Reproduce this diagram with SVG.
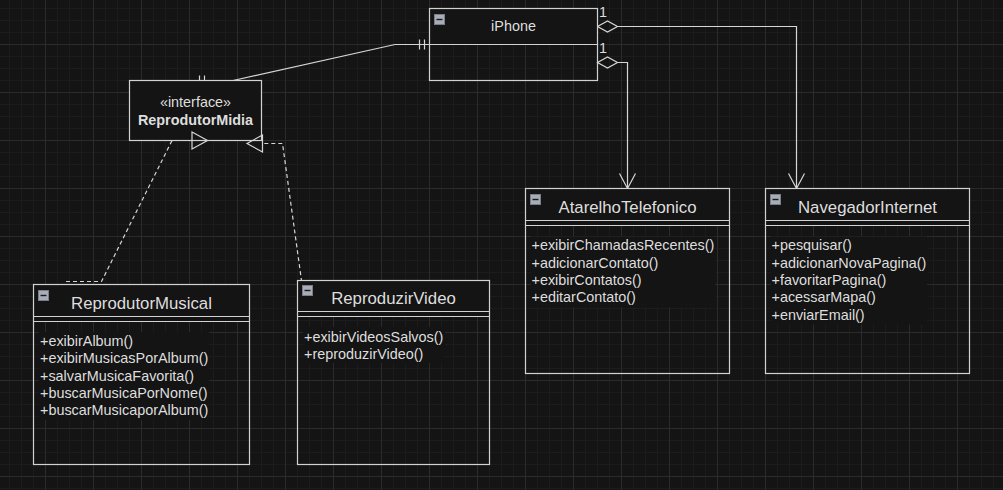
<svg xmlns="http://www.w3.org/2000/svg" width="1003" height="490" viewBox="0 0 1003 490">
<style>
.box{fill:none;stroke:#d2d2d2;stroke-width:1.2}
.hdr{fill:#141414;stroke:none}
.sep{stroke:#d2d2d2;stroke-width:1.2;fill:none}
.icon{fill:#a8acb7;stroke:#7a7e8a;stroke-width:1}
.minus{stroke:#1a1a1a;stroke-width:1.4}
.title{font-family:"Liberation Sans",Arial,sans-serif;font-size:16.8px;fill:#dedede;text-anchor:middle}
.t14{font-family:"Liberation Sans",Arial,sans-serif;font-size:14.4px;fill:#dedede}
.mid{text-anchor:middle}
.bold{font-weight:bold}
.edge{fill:none;stroke:#d6d6d6;stroke-width:1.2}
.dash{stroke-dasharray:4 3}
.bgfill{fill:#141414;stroke:none}
</style>
<defs>
<pattern id="grid" patternUnits="userSpaceOnUse" x="45" y="44" width="48" height="48">
<rect width="48" height="48" fill="#141414"/>
<path d="M12.5 0V48M24.5 0V48M36.5 0V48M0 12.5H48M0 24.5H48M0 36.5H48" stroke="#1c1c1c" stroke-width="1"/>
<path d="M0.5 0V48M0 0.5H48" stroke="#2b2b2b" stroke-width="1"/>
</pattern>
</defs>
<rect width="1003" height="490" fill="url(#grid)"/>

<g id="connectors">
<polyline class="edge" points="233,80.5 395,44.5 429.5,44.5"/>
<path class="edge" d="M419.5 39.5V49.5M424.5 39.5V49.5M199.5 75.5V80.5M204.5 75.5V80.5"/>
<polyline class="edge" points="617.5,26.5 796.5,26.5 796.5,188.5"/>
<polygon class="edge" points="597.5,26.5 607.5,21 617.5,26.5 607.5,32" fill="#141414"/>
<polyline class="edge" points="788.5,173.5 796.5,188.5 804.5,173.5"/>
<polyline class="edge" points="617.5,62.5 627.5,62.5 627.5,188.5"/>
<polygon class="edge" points="597.5,62.5 607.5,57 617.5,62.5 607.5,68" fill="#141414"/>
<polyline class="edge" points="619.5,173.5 627.5,188.5 635.5,173.5"/>
<polyline class="edge dash" points="66,281.5 101.5,281.5 172,140.5 192,140.5"/>
<polyline class="edge dash" points="338,280.5 301.5,280.5 282.5,143.5 262.5,143.5"/>
</g>

<g id="iPhone">
<rect class="hdr" x="429.5" y="8.5" width="168" height="36"/>
<rect class="box" x="429.5" y="8.5" width="168" height="72"/>
<line class="sep" x1="429.5" y1="44.5" x2="597.5" y2="44.5"/>
<rect class="icon" x="434.5" y="14.5" width="10" height="10"/>
<line class="minus" x1="436.5" y1="19.5" x2="442.5" y2="19.5"/>
<text class="t14 mid" x="513.5" y="31">iPhone</text>
<text class="t14" x="599" y="17">1</text>
<text class="t14" x="599" y="53">1</text>
</g>

<g id="ReprodutorMidia">
<rect x="129.5" y="80.5" width="132" height="60" fill="#141414" stroke="#d2d2d2" stroke-width="1.2"/>
<text class="t14 mid" x="195.5" y="107">«interface»</text>
<text class="t14 mid bold" x="195.5" y="124.5">ReprodutorMidia</text>
</g>

<g id="triangles">
<polygon class="edge" points="192,132 207.5,140.5 192,149" fill="#141414"/>
<polygon class="edge" points="262.5,135 247,143.5 262.5,152" fill="#141414"/>
</g>

<g id="ReprodutorMusical">
<rect class="hdr" x="33.5" y="284.5" width="216" height="37"/>
<rect class="bgfill" x="39" y="332" width="170" height="88"/>
<rect class="box" x="33.5" y="284.5" width="216" height="180"/>
<line class="sep" x1="33.5" y1="316.5" x2="249.5" y2="316.5"/>
<line class="sep" x1="33.5" y1="321.5" x2="249.5" y2="321.5"/>
<rect class="icon" x="38.5" y="290.5" width="10" height="10"/>
<line class="minus" x1="40.5" y1="295.5" x2="46.5" y2="295.5"/>
<text class="title" x="141.5" y="309">ReprodutorMusical</text>
<text class="t14" x="40" y="346">+exibirAlbum()</text>
<text class="t14" x="40" y="363.3">+exibirMusicasPorAlbum()</text>
<text class="t14" x="40" y="380.6">+salvarMusicaFavorita()</text>
<text class="t14" x="40" y="397.9">+buscarMusicaPorNome()</text>
<text class="t14" x="40" y="415.2">+buscarMusicaporAlbum()</text>
</g>

<g id="ReproduzirVideo">
<rect class="hdr" x="297.5" y="280.5" width="192" height="36"/>
<rect class="bgfill" x="303" y="327" width="142" height="36"/>
<rect class="box" x="297.5" y="280.5" width="192" height="184"/>
<line class="sep" x1="297.5" y1="311.5" x2="489.5" y2="311.5"/>
<line class="sep" x1="297.5" y1="316.5" x2="489.5" y2="316.5"/>
<rect class="icon" x="302.5" y="285.5" width="10" height="10"/>
<line class="minus" x1="304.5" y1="290.5" x2="310.5" y2="290.5"/>
<text class="title" x="393.5" y="304">ReproduzirVideo</text>
<text class="t14" x="304" y="341.5">+exibirVideosSalvos()</text>
<text class="t14" x="304" y="358.8">+reproduzirVideo()</text>
</g>

<g id="AtarelhoTelefonico">
<rect class="hdr" x="525.5" y="188.5" width="204" height="37"/>
<rect class="bgfill" x="531" y="236.5" width="184" height="71"/>
<rect class="box" x="525.5" y="188.5" width="204" height="185"/>
<line class="sep" x1="525.5" y1="220.5" x2="729.5" y2="220.5"/>
<line class="sep" x1="525.5" y1="225.5" x2="729.5" y2="225.5"/>
<rect class="icon" x="530.5" y="194.5" width="10" height="10"/>
<line class="minus" x1="532.5" y1="199.5" x2="538.5" y2="199.5"/>
<text class="title" x="627.5" y="213">AtarelhoTelefonico</text>
<text class="t14" x="531.5" y="250.3">+exibirChamadasRecentes()</text>
<text class="t14" x="531.5" y="267.6">+adicionarContato()</text>
<text class="t14" x="531.5" y="284.9">+exibirContatos()</text>
<text class="t14" x="531.5" y="302.2">+editarContato()</text>
</g>

<g id="NavegadorInternet">
<rect class="hdr" x="765.5" y="188.5" width="204" height="37"/>
<rect class="bgfill" x="771" y="236.5" width="156" height="88"/>
<rect class="box" x="765.5" y="188.5" width="204" height="185"/>
<line class="sep" x1="765.5" y1="220.5" x2="969.5" y2="220.5"/>
<line class="sep" x1="765.5" y1="225.5" x2="969.5" y2="225.5"/>
<rect class="icon" x="770.5" y="194.5" width="10" height="10"/>
<line class="minus" x1="772.5" y1="199.5" x2="778.5" y2="199.5"/>
<text class="title" x="867.5" y="213">NavegadorInternet</text>
<text class="t14" x="771.5" y="250.3">+pesquisar()</text>
<text class="t14" x="771.5" y="267.6">+adicionarNovaPagina()</text>
<text class="t14" x="771.5" y="284.9">+favoritarPagina()</text>
<text class="t14" x="771.5" y="302.2">+acessarMapa()</text>
<text class="t14" x="771.5" y="319.5">+enviarEmail()</text>
</g>
</svg>
